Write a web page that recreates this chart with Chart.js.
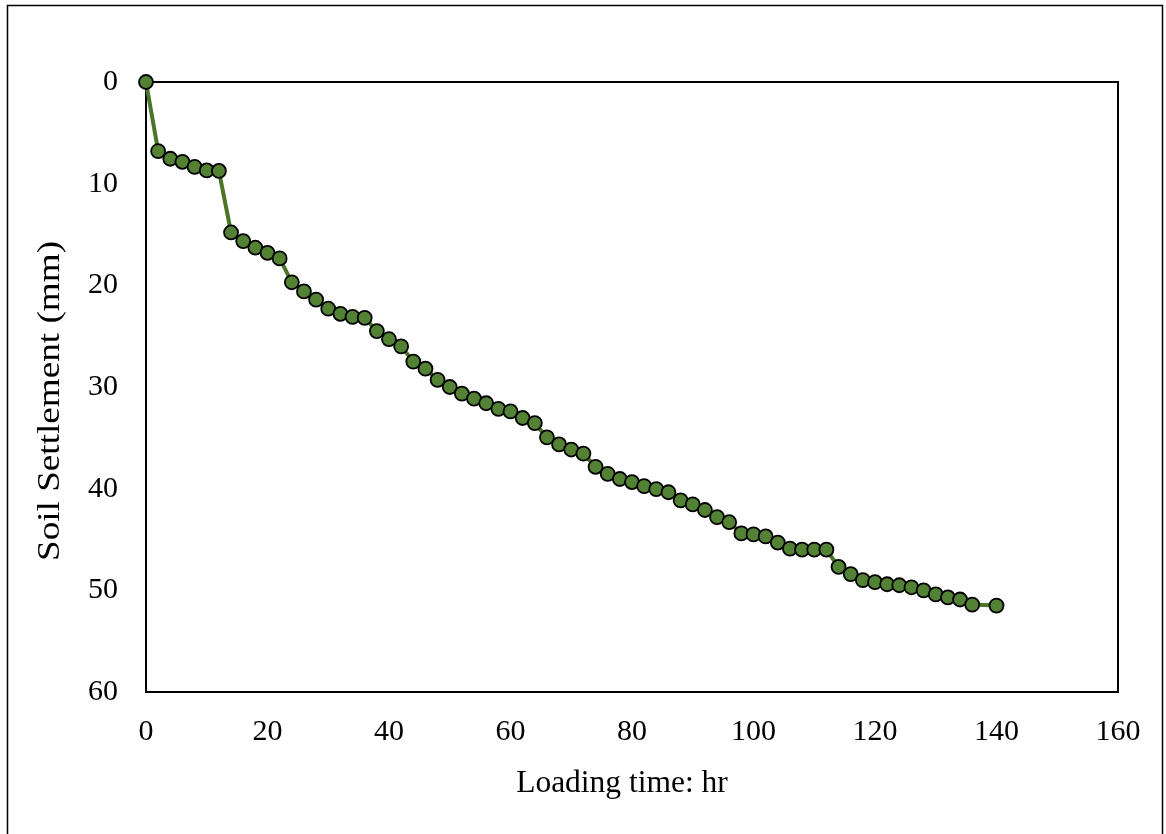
<!DOCTYPE html>
<html>
<head>
<meta charset="utf-8">
<script src="https://cdn.jsdelivr.net/npm/chart.js@4.4.1/dist/chart.umd.min.js"></script>
<style>
  html, body { margin: 0; padding: 0; background: #ffffff; }
  #wrap { width: 1166px; height: 834px; }
</style>
</head>
<body>
<div id="wrap"><canvas id="c" width="1166" height="834"></canvas></div>
<script>
const loadingTime = [0,2,4,6,8,10,12,14,16,18,20,22,24,26,28,30,32,34,36,38,40,42,44,46,48,50,52,54,56,58,60,62,64,66,68,70,72,74,76,78,80,82,84,86,88,90,92,94,96,98,100,102,104,106,108,110,112,114,116,118,120,122,124,126,128,130,132,134,136,140];
const settlement = [0,6.8,7.55,7.85,8.35,8.7,8.75,14.8,15.65,16.3,16.8,17.35,19.7,20.6,21.4,22.3,22.8,23.1,23.2,24.5,25.3,26.0,27.5,28.2,29.3,30.0,30.65,31.15,31.6,32.15,32.4,33.05,33.55,34.95,35.65,36.15,36.55,37.85,38.55,39.05,39.35,39.75,40.05,40.35,41.15,41.55,42.1,42.8,43.3,44.4,44.5,44.7,45.3,45.9,46.0,46.0,46.0,47.7,48.4,49.0,49.2,49.4,49.5,49.7,50.0,50.4,50.7,50.9,51.4,51.5];
const xTicks = [0,20,40,60,80,100,120,140,160];
const yTicks = [0,10,20,30,40,50,60];
const xTitle = 'Loading time: hr';
const yTitle = 'Soil Settlement (mm)';

const points = loadingTime.map((t, i) => ({ x: t, y: settlement[i] }));

const frame = {
  id: 'frame',
  beforeDraw(chart) {
    const ctx = chart.ctx;
    ctx.save();
    ctx.fillStyle = '#ffffff';
    ctx.fillRect(0, 0, chart.width, chart.height);
    ctx.strokeStyle = '#000000';
    ctx.lineWidth = 1.5;
    ctx.strokeRect(7.5, 5.5, 1155, 840);
    ctx.restore();
  },
  beforeDatasetsDraw(chart) {
    const a = chart.chartArea;
    const ctx = chart.ctx;
    ctx.save();
    ctx.strokeStyle = '#000000';
    ctx.lineWidth = 2;
    ctx.strokeRect(a.left, a.top, a.right - a.left, a.bottom - a.top);
    ctx.restore();
  },
  afterDraw(chart) {
    const ctx = chart.ctx;
    ctx.save();
    ctx.fillStyle = '#000000';
    ctx.font = '31.5px "Liberation Serif", "Times New Roman", serif';
    ctx.textAlign = 'center';
    ctx.textBaseline = 'alphabetic';
    ctx.fillText(xTitle, 622, 792);
    ctx.translate(59, 401);
    ctx.rotate(-Math.PI / 2);
    ctx.scale(1.18, 1);
    ctx.fillText(yTitle, 0, 0);
    ctx.restore();
  }
};

new Chart(document.getElementById('c'), {
  type: 'line',
  data: {
    datasets: [{
      data: points,
      borderColor: '#4b7529',
      borderWidth: 4,
      backgroundColor: '#548235',
      pointBackgroundColor: '#548235',
      pointBorderColor: '#000000',
      pointBorderWidth: 1.8,
      pointRadius: 7,
      pointHoverRadius: 7,
      tension: 0,
      fill: false,
      clip: false
    }]
  },
  options: {
    responsive: false,
    animation: false,
    events: [],
    layout: { padding: { left: 0, top: 82, right: 48, bottom: 0 } },
    plugins: { legend: { display: false }, tooltip: { enabled: false }, title: { display: false } },
    scales: {
      x: {
        type: 'linear',
        min: 0, max: 160,
        afterFit(s) { s.height = 142; },
        afterBuildTicks(s) { s.ticks = xTicks.map(v => ({ value: v })); },
        grid: { display: false, drawTicks: false },
        border: { display: false },
        ticks: {
          color: '#000000',
          padding: 22,
          maxRotation: 0,
          font: { family: '"Liberation Serif", "Times New Roman", serif', size: 30 }
        }
      },
      y: {
        type: 'linear',
        reverse: true,
        min: 0, max: 60,
        afterFit(s) { s.width = 146; },
        afterBuildTicks(s) { s.ticks = yTicks.map(v => ({ value: v })); },
        grid: { display: false, drawTicks: false },
        border: { display: false },
        ticks: {
          color: '#000000',
          padding: 28,
          font: { family: '"Liberation Serif", "Times New Roman", serif', size: 30 }
        }
      }
    }
  },
  plugins: [frame]
});
</script>
</body>
</html>
